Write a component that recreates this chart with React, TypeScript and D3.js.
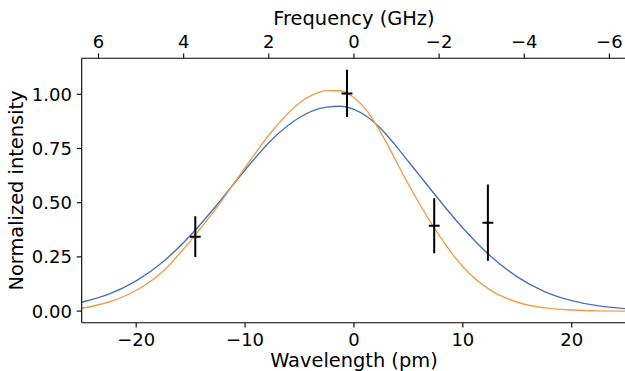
import React from 'react';
import * as d3 from 'd3';

// Wavelength grid (pm) and curve values
const wavelengths = [-25, -22.5, -20, -17.5, -15, -12.5, -10, -7.5, -5, -3.75, -2.5, -1.25, 0, 1.25, 2.5, 5, 7.5, 10, 12.5, 15, 17.5, 20, 22.5, 25];
const fitBlue = [0.041, 0.078, 0.139, 0.229, 0.35, 0.495, 0.651, 0.793, 0.893, 0.925, 0.941, 0.945, 0.93, 0.895, 0.84, 0.69, 0.533, 0.383, 0.255, 0.158, 0.09, 0.048, 0.024, 0.011];
const fitOrange = [0.013, 0.042, 0.095, 0.185, 0.325, 0.484, 0.662, 0.831, 0.96, 0.998, 1.017, 1.016, 0.985, 0.92, 0.82, 0.585, 0.373, 0.205, 0.098, 0.041, 0.015, 0.005, 0.001, 0.0];

// Measured points with error bars
const pointX = [-14.57, -0.64, 7.37, 12.3];
const pointY = [0.343, 1.004, 0.394, 0.408];
const pointYErr = [0.094, 0.109, 0.127, 0.176];
const pointXErr = [0.5, 0.5, 0.5, 0.5];

// Tick labels
const xTicks = [-20, -10, 0, 10, 20];
const yTicks = [0, 0.25, 0.5, 0.75, 1.0];
const freqTicks = [6, 4, 2, 0, -2, -4, -6];
const GHZ_PER_PM = -0.2558;

const W = 625;
const H = 371;
const left = 81.7;
const right = 626.2;
const top = 58.3;
const bottom = 322.7;

const FONT = 'DejaVu Sans, sans-serif';
const TICK_FS = 18;
const LABEL_FS = 19.4;
const TICK_LEN = 4.9;
const BLUE = '#4575b9';
const ORANGE = '#f09d4a';

const fmtMinus = (s: string) => s.replace('-', '\u2212');

export default function App() {
  const x = d3.scaleLinear().domain([-25, 25]).range([left, right]);
  const xf = d3.scaleLinear().domain([-25 * GHZ_PER_PM, 25 * GHZ_PER_PM]).range([left, right]);
  const y = d3.scaleLinear().domain([-0.0535, 1.166]).range([bottom, top]);

  const line = d3
    .line<number>()
    .x((_, i) => x(wavelengths[i]))
    .y((d) => y(d))
    .curve(d3.curveMonotoneX);

  return (
    <svg width={W} height={H} style={{ position: 'absolute', left: 0, top: 0 }} fontFamily={FONT}>
      <rect width={W} height={H} fill="#fff" />
      <defs>
        <clipPath id="plot">
          <rect x={left} y={top} width={right - left} height={bottom - top} />
        </clipPath>
      </defs>
      <g clipPath="url(#plot)">
        <path d={line(fitBlue) || ''} fill="none" stroke={BLUE} strokeWidth={1.4} />
        <path d={line(fitOrange) || ''} fill="none" stroke={ORANGE} strokeWidth={1.4} />
        {pointX.map((px, i) => (
          <g key={i} stroke="#000" strokeWidth={2}>
            <line x1={x(px)} x2={x(px)} y1={y(pointY[i] - pointYErr[i])} y2={y(pointY[i] + pointYErr[i])} />
            <line x1={x(px - pointXErr[i])} x2={x(px + pointXErr[i])} y1={y(pointY[i])} y2={y(pointY[i])} />
          </g>
        ))}
      </g>
      {/* spines */}
      <g stroke="#000" strokeWidth={1.1} fill="none">
        <line x1={left} x2={left} y1={top} y2={bottom} />
        <line x1={left} x2={right} y1={bottom} y2={bottom} />
        <line x1={left} x2={right} y1={top} y2={top} />
        <line x1={right} x2={right} y1={top} y2={bottom} />
      </g>
      {/* bottom axis */}
      {xTicks.map((t) => (
        <g key={'x' + t}>
          <line x1={x(t)} x2={x(t)} y1={bottom} y2={bottom + TICK_LEN} stroke="#000" strokeWidth={1.1} />
          <text x={x(t)} y={345.6} textAnchor="middle" fontSize={TICK_FS} fill="#000">
            {fmtMinus(String(t))}
          </text>
        </g>
      ))}
      <text x={(left + right) / 2} y={367} textAnchor="middle" fontSize={LABEL_FS} fill="#000">
        Wavelength (pm)
      </text>
      {/* top axis */}
      {freqTicks.map((t) => (
        <g key={'f' + t}>
          <line x1={xf(t)} x2={xf(t)} y1={top} y2={top - TICK_LEN} stroke="#000" strokeWidth={1.1} />
          <text x={xf(t)} y={48} textAnchor="middle" fontSize={TICK_FS} fill="#000">
            {fmtMinus(String(t))}
          </text>
        </g>
      ))}
      <text x={(left + right) / 2} y={25} textAnchor="middle" fontSize={LABEL_FS} fill="#000">
        Frequency (GHz)
      </text>
      {/* left axis */}
      {yTicks.map((t) => (
        <g key={'y' + t}>
          <line x1={left} x2={left - TICK_LEN} y1={y(t)} y2={y(t)} stroke="#000" strokeWidth={1.1} />
          <text x={left - TICK_LEN - 4.9} y={y(t)} dy="0.36em" textAnchor="end" fontSize={TICK_FS} fill="#000">
            {d3.format('.2f')(t)}
          </text>
        </g>
      ))}
      <text
        transform={`translate(23,${(top + bottom) / 2}) rotate(-90)`}
        textAnchor="middle"
        fontSize={LABEL_FS}
        fill="#000"
      >
        Normalized intensity
      </text>
    </svg>
  );
}
